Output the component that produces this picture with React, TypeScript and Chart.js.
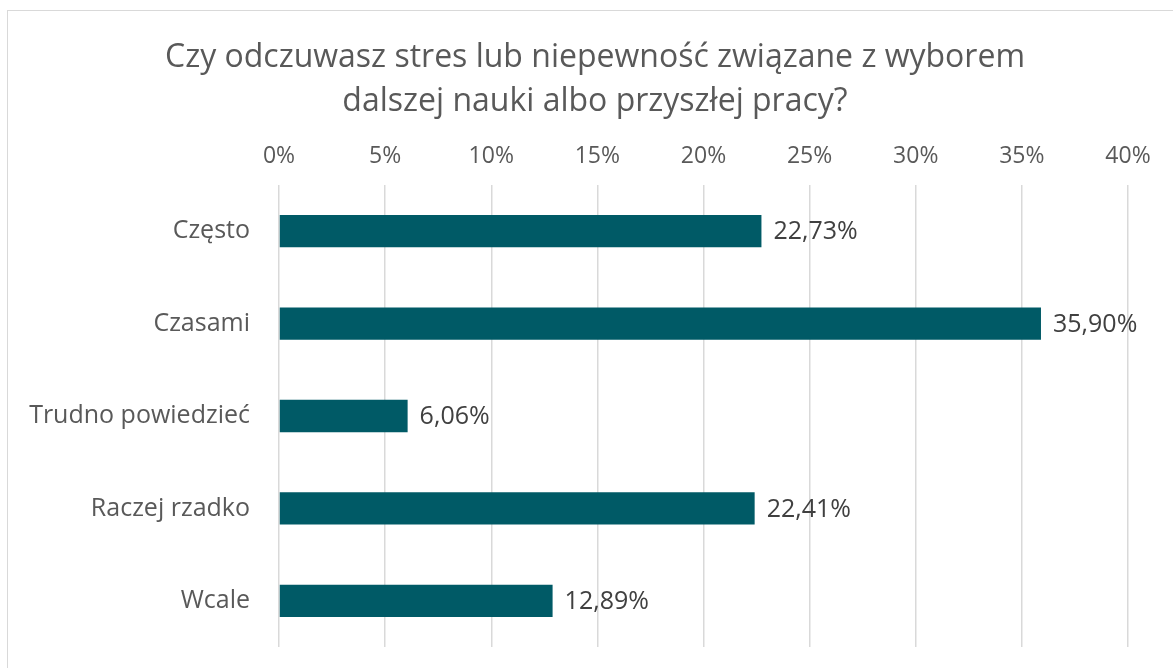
import React, { useEffect, useRef } from "react";
import { Chart, registerables } from "chart.js";

Chart.register(...registerables);

const titleLines = [
  "Czy odczuwasz stres lub niepewność związane z wyborem",
  "dalszej nauki albo przyszłej pracy?",
];
const categories = ["Często", "Czasami", "Trudno powiedzieć", "Raczej rzadko", "Wcale"];
const values = [22.73, 35.9, 6.06, 22.41, 12.89];
const axisMin = 0;
const axisMax = 40;
const axisStep = 5;

const FONT = "'Open Sans', sans-serif";
const TEXT_GRAY = "#595959";
const LABEL_DARK = "#404040";
const BAR_COLOR = "#005A66";
const GRID = "#D9D9D9";

const fmtPct = (v: number) => v.toFixed(2).replace(".", ",") + "%";

const titlePlugin = {
  id: "customTitle",
  afterDraw(chart: any) {
    const ctx = chart.ctx;
    ctx.save();
    ctx.fillStyle = TEXT_GRAY;
    ctx.font = `32px ${FONT}`;
    ctx.textAlign = "center";
    ctx.textBaseline = "alphabetic";
    const baselines = [67, 111];
    titleLines.forEach((line, i) => ctx.fillText(line, 595, baselines[i]));
    ctx.restore();
  },
};

const dataLabelPlugin = {
  id: "dataLabels",
  afterDatasetsDraw(chart: any) {
    const ctx = chart.ctx;
    const meta = chart.getDatasetMeta(0);
    ctx.save();
    ctx.fillStyle = LABEL_DARK;
    ctx.font = `25px ${FONT}`;
    ctx.textAlign = "left";
    ctx.textBaseline = "middle";
    meta.data.forEach((bar: any, i: number) => {
      const v = chart.data.datasets[0].data[i] as number;
      ctx.fillText(fmtPct(v), bar.x + 12, bar.y + 1);
    });
    ctx.restore();
  },
};

export default function App() {
  const ref = useRef<HTMLCanvasElement | null>(null);
  useEffect(() => {
    if (!ref.current) return;
    const chart = new Chart(ref.current, {
      type: "bar",
      data: {
        labels: categories,
        datasets: [
          {
            data: values,
            backgroundColor: BAR_COLOR,
            categoryPercentage: 1,
            barPercentage: 0.35,
          },
        ],
      },
      options: {
        indexAxis: "y",
        animation: false,
        responsive: false,
        maintainAspectRatio: false,
        layout: { padding: { left: 0, right: 45, top: 0, bottom: 21 } },
        plugins: {
          legend: { display: false },
          title: { display: false },
          tooltip: { enabled: false },
        },
        scales: {
          x: {
            position: "top",
            min: axisMin,
            max: axisMax,
            border: { display: false },
            grid: { color: GRID, lineWidth: 1.5, drawTicks: false },
            ticks: {
              stepSize: axisStep,
              color: TEXT_GRAY,
              font: { family: FONT, size: 23 },
              padding: 15,
              callback: (v: any) => `${v}%`,
              maxRotation: 0,
            },
            afterFit: (s: any) => {
              s.height = 185;
              s.paddingLeft = 0;
              s.paddingRight = 0;
            },
          },
          y: {
            border: { display: false },
            grid: { display: false, drawTicks: false },
            ticks: {
              color: TEXT_GRAY,
              font: { family: FONT, size: 25 },
              padding: 29,
            },
            afterFit: (s: any) => {
              s.width = 279;
              s.paddingTop = 0;
              s.paddingBottom = 0;
            },
          },
        },
      },
      plugins: [titlePlugin, dataLabelPlugin],
    });
    return () => chart.destroy();
  }, []);

  return (
    <div
      style={{
        position: "absolute",
        left: 0,
        top: 0,
        width: 1173,
        height: 668,
        overflow: "hidden",
        background: "#fff",
      }}
    >
      <div
        style={{
          position: "absolute",
          left: 7,
          top: 10,
          width: 1300,
          height: 800,
          border: `1px solid ${GRID}`,
          boxSizing: "border-box",
        }}
      />
      <canvas
        ref={ref}
        width={1173}
        height={668}
        style={{ position: "absolute", left: 0, top: 0, width: 1173, height: 668 }}
      />
    </div>
  );
}
